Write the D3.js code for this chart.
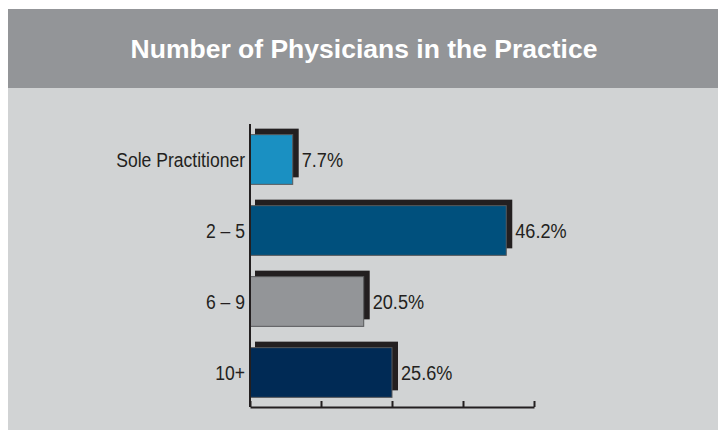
<!DOCTYPE html>
<html>
<head>
<meta charset="utf-8">
<script src="https://cdn.jsdelivr.net/npm/d3@7"></script>
<style>
  body { margin: 0; background: #fff; }
  svg { display: block; }
</style>
</head>
<body>
<svg id="chart"></svg>
<script>
/* Number of Physicians in the Practice - horizontal bars with drop shadow */

var categories = ["Sole Practitioner", "2 \u2013 5", "6 \u2013 9", "10+"];
var values = [7.7, 46.2, 20.5, 25.6];
var colors = ["#1a90c2", "#00507d", "#939598", "#002a55"];
var tickValues = [0, 12.8, 25.6, 38.4, 51.2];

var width = 723, height = 443;
var font = "'Liberation Sans', Arial, Helvetica, sans-serif";

var svg = d3.select("#chart")
    .attr("width", width)
    .attr("height", height);

// panels
svg.append("rect")
    .attr("x", 8).attr("y", 9)
    .attr("width", 710).attr("height", 421)
    .attr("fill", "#d1d3d4");
svg.append("rect")
    .attr("x", 8).attr("y", 9)
    .attr("width", 710).attr("height", 79)
    .attr("fill", "#939598");

svg.append("text")
    .attr("x", 364).attr("y", 58)
    .attr("text-anchor", "middle")
    .attr("fill", "#fff")
    .style("font-family", font)
    .style("font-weight", "bold")
    .style("font-size", "26.5px")
    .text("Number of Physicians in the Practice");

var xScale = d3.scaleLinear()
    .domain([0, 51.2])
    .range([250, 534]);

var yScale = d3.scaleBand()
    .domain(categories)
    .range([124, 408])
    .paddingInner(0.3)
    .paddingOuter(0.15);

var g = svg.append("g");

// shadows
g.selectAll(".shadow")
    .data(values)
  .enter().append("rect")
    .attr("class", "shadow")
    .attr("x", xScale(0) + 5)
    .attr("y", function(d, i) { return yScale(categories[i]) - 6; })
    .attr("width", function(d) { return xScale(d) - xScale(0) + 1; })
    .attr("height", yScale.bandwidth() - 1)
    .attr("fill", "#231f20");

// bars
g.selectAll(".bar")
    .data(values)
  .enter().append("rect")
    .attr("class", "bar")
    .attr("x", xScale(0))
    .attr("y", function(d, i) { return yScale(categories[i]); })
    .attr("width", function(d) { return xScale(d) - xScale(0); })
    .attr("height", yScale.bandwidth())
    .attr("fill", function(d, i) { return colors[i]; })
    .attr("stroke", "#58595b")
    .attr("stroke-width", 1);

// value labels (condensed look)
g.selectAll(".val")
    .data(values)
  .enter().append("text")
    .attr("class", "val")
    .attr("transform", function(d, i) {
      return "translate(" + (xScale(d) + 9) + "," + (yScale(categories[i]) + yScale.bandwidth() / 2 + 7) + ") scale(0.93,1)";
    })
    .attr("fill", "#231f20")
    .style("font-family", font)
    .style("font-size", "19.5px")
    .text(function(d) { return d + "%"; });

// y axis
var yAxis = svg.append("g")
    .attr("transform", "translate(" + xScale(0) + ",0)")
    .call(d3.axisLeft(yScale).tickSize(0).tickPadding(0));
yAxis.select(".domain")
    .attr("d", "M0,124V407")
    .attr("stroke", "#231f20")
    .attr("stroke-width", 2);
yAxis.selectAll("text")
    .attr("x", null)
    .attr("dy", null)
    .attr("transform", "translate(-5,7) scale(0.9,1)")
    .attr("fill", "#231f20")
    .style("font-family", font)
    .style("font-size", "19.5px");

// x axis
var xAxis = svg.append("g")
    .attr("transform", "translate(0,407)")
    .call(d3.axisTop(xScale).tickValues(tickValues).tickSize(6).tickSizeOuter(0).tickFormat(""));
xAxis.select(".domain")
    .attr("stroke", "#231f20")
    .attr("stroke-width", 2);
xAxis.selectAll(".tick line")
    .attr("stroke", "#231f20")
    .attr("stroke-width", 2);
</script>
</body>
</html>
